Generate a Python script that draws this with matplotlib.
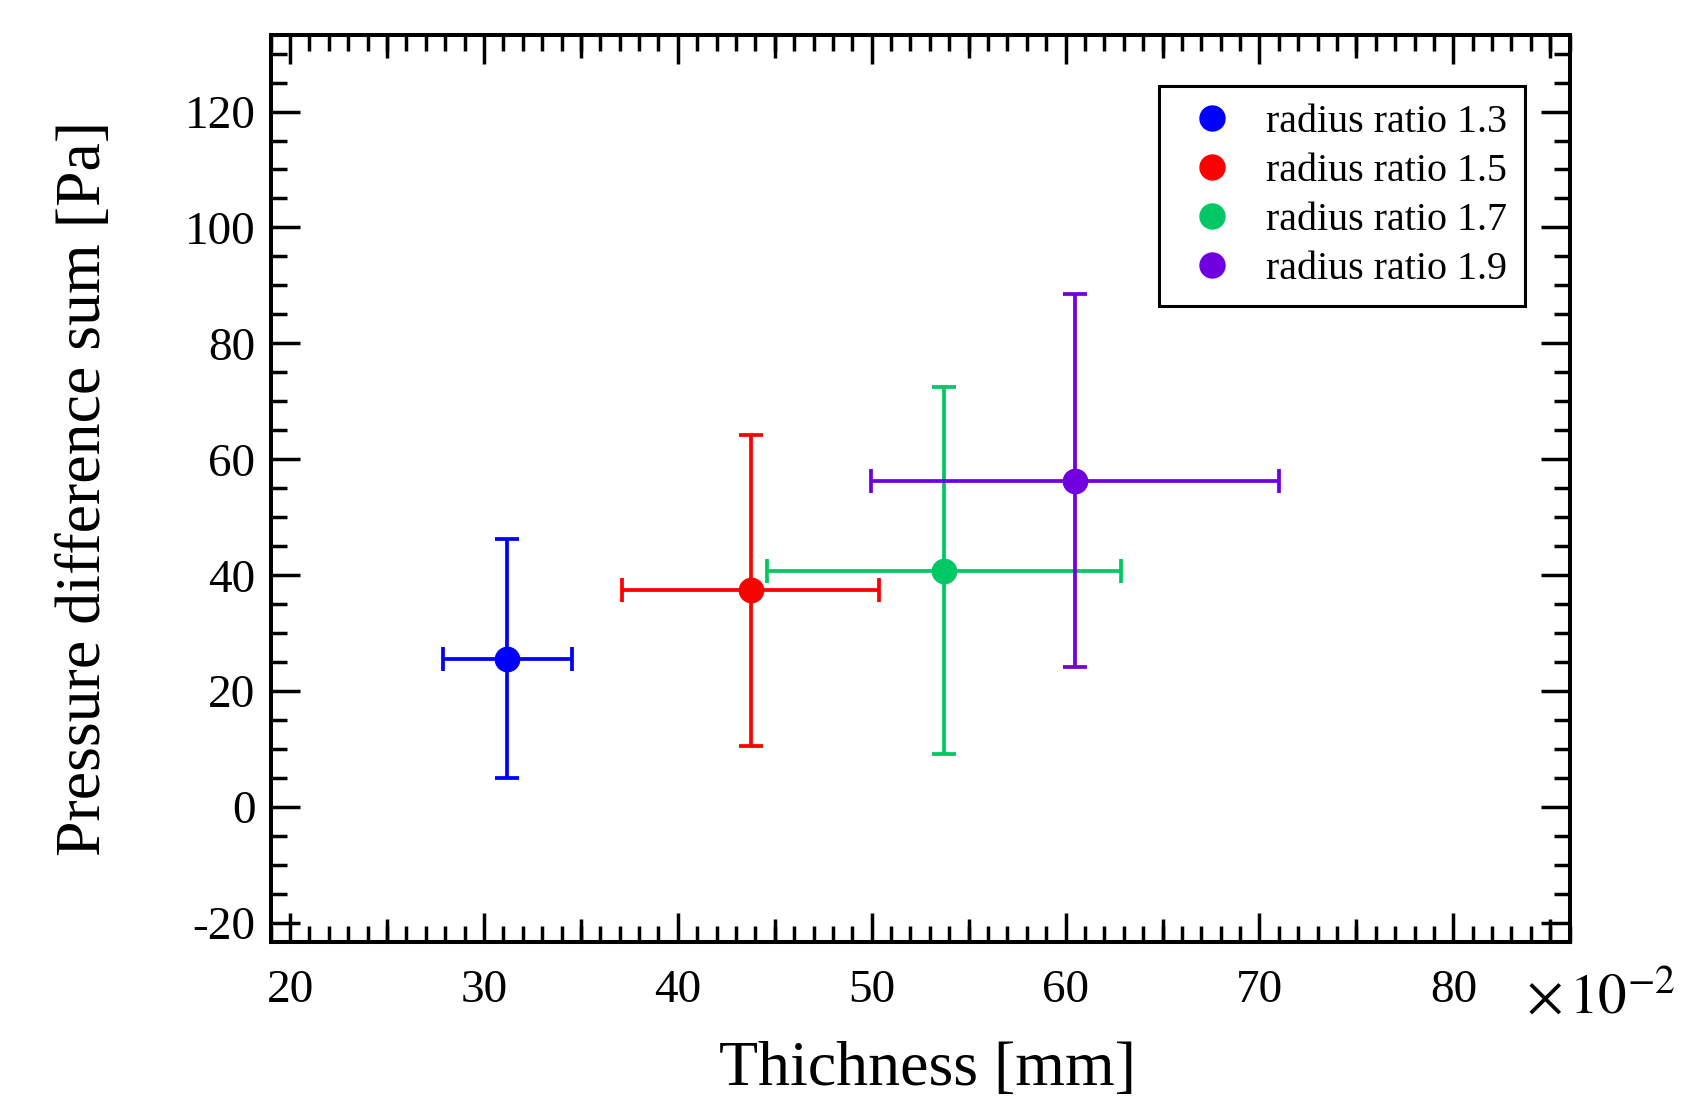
import numpy as np
import matplotlib
matplotlib.use("Agg")
from matplotlib import pyplot as plt
from matplotlib.ticker import MultipleLocator, FixedLocator
from matplotlib.lines import Line2D

plt.rcParams['font.family'] = ['Liberation Serif', 'DejaVu Serif']
plt.rcParams['mathtext.fontset'] = 'stix'
plt.rcParams['axes.unicode_minus'] = False

# thickness in units of 1e-2 mm, pressure sum in Pa
labels = ["radius ratio 1.3", "radius ratio 1.5", "radius ratio 1.7", "radius ratio 1.9"]
colors = ["#0000ff", "#ff0000", "#00c864", "#7000e0"]
thickness = [31.2, 43.75, 53.72, 60.48]
thickness_err = [3.33, 6.62, 9.14, 10.54]
pressure = [25.6, 37.4, 40.8, 56.3]
pressure_err = [20.65, 26.8, 31.6, 32.17]

fig = plt.figure(figsize=(16.94, 10.97), dpi=100)
ax = fig.add_axes([0.1598, 0.1416, 0.7668, 0.8265])

for x, xe, y, ye, c in zip(thickness, thickness_err, pressure, pressure_err, colors):
    ax.errorbar(x, y, xerr=xe, yerr=ye, fmt='o', color=c, ms=17.5,
                elinewidth=2.7, capsize=8.5, capthick=2.7)

ax.set_xlim(19, 86)
ax.set_ylim(-23.2, 133.2)

ax.xaxis.set_major_locator(MultipleLocator(10))
ax.xaxis.set_minor_locator(MultipleLocator(1))
ax.yaxis.set_major_locator(MultipleLocator(20))
ax.yaxis.set_minor_locator(MultipleLocator(5))

ax.tick_params(which='both', direction='in', top=True, right=True, width=2.5)
ax.tick_params(which='major', length=21)
ax.tick_params(which='minor', length=11.5)
ax.tick_params(axis='x', labelsize=34, pad=20)
ax.tick_params(axis='y', labelsize=34, pad=11)

# mid-length ticks at every 5 on the x axes
for side in ('bottom', 'top'):
    sec = ax.secondary_xaxis(side)
    sec.xaxis.set_major_locator(FixedLocator(np.arange(25, 86, 10)))
    sec.tick_params(direction='in', length=16.3, width=2.5,
                    labelbottom=False, labeltop=False)
    for s in sec.spines.values():
        s.set_visible(False)

for s in ax.spines.values():
    s.set_linewidth(2.9)

ax.set_xlabel("Thichness [mm]", fontsize=46)
ax.set_ylabel("Pressure difference sum [Pa]", fontsize=46)
ax.xaxis.set_label_coords(0.506, -0.11)
ax.yaxis.set_label_coords(-0.1205, 0.5)

ax.text(0.9665, -0.0793, r'$\times\,10^{-2}$', transform=ax.transAxes,
        ha='left', va='baseline', fontsize=41)

handles = [Line2D([], [], ls='none', marker='o', ms=18, color=c) for c in colors]
leg = ax.legend(handles, labels, loc='upper right', bbox_to_anchor=(0.9656, 0.9441),
                borderaxespad=0, fontsize=28.8, fancybox=False, framealpha=1,
                edgecolor='black', handlelength=1.75, handletextpad=0.475,
                labelspacing=0.3, borderpad=0.45)
leg.get_frame().set_linewidth(2.2)

fig.savefig("out.png", dpi=100)
